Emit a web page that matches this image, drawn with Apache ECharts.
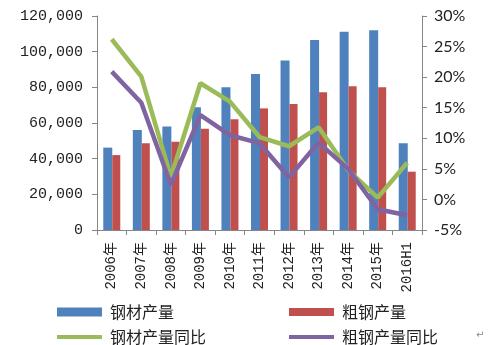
<!DOCTYPE html>
<html>
<head>
<meta charset="utf-8">
<script src="https://cdn.jsdelivr.net/npm/echarts@6/dist/echarts.min.js"></script>
<style>
  html, body { margin: 0; padding: 0; background: #ffffff; }
  #chart { width: 491px; height: 345px; }
</style>
</head>
<body>
<div id="chart"></div>
<script>
// Categories (years)
const categories = ['2006年', '2007年', '2008年', '2009年', '2010年', '2011年', '2012年', '2013年', '2014年', '2015年', '2016H1'];

// Output, 10k tonnes (left axis)
const steelProducts = [46200, 56100, 58000, 68800, 80000, 87500, 95000, 106500, 111200, 112000, 48600];
const crudeSteel = [42000, 48600, 49500, 56800, 62100, 68200, 70700, 77200, 80600, 80000, 32700];

// Year-on-year growth, % (right axis)
const steelProductsYoY = [26.2, 20.1, 3.7, 19.0, 16.0, 10.2, 8.7, 11.8, 4.8, 0.3, 6.0];
const crudeSteelYoY = [20.9, 15.8, 2.4, 13.8, 10.5, 9.2, 3.6, 9.3, 5.0, -1.6, -2.6];

// Series names
const names = ['钢材产量', '粗钢产量', '钢材产量同比', '粗钢产量同比'];

// Axis tick settings
const leftTicks = { min: 0, max: 120000, interval: 20000 };
const rightTicks = { min: -5, max: 30, interval: 5 };

const colors = ['#4F81BD', '#C0504D', '#9BBB59', '#8064A2'];
const axisGray = '#868686';
const cjk = "'Noto Sans CJK SC', sans-serif";
const mono = "'Liberation Mono', 'Noto Sans CJK SC', monospace";

function legendAt(name, color, left, top, h) {
  return {
    data: [{ name: name, icon: 'rect', itemStyle: { color: color } }],
    left: left, top: top,
    itemWidth: 45, itemHeight: h,
    itemGap: 0,
    selectedMode: false,
    textStyle: { fontFamily: cjk, fontSize: 16, color: '#222', padding: [0, 0, 0, 3] }
  };
}

const chart = echarts.init(document.getElementById('chart'), null, { renderer: 'canvas' });

chart.setOption({
  animation: false,
  backgroundColor: '#ffffff',
  color: colors,
  grid: { left: 97, right: 69, top: 16, bottom: 115 },
  legend: [
    legendAt(names[0], colors[0], 52, 299, 9),
    legendAt(names[1], colors[1], 284, 299, 8),
    legendAt(names[2], colors[2], 52, 324, 4),
    legendAt(names[3], colors[3], 284, 324, 4)
  ],
  xAxis: {
    type: 'category',
    data: categories,
    boundaryGap: true,
    axisLine: { lineStyle: { color: axisGray, width: 1 } },
    axisTick: { show: true, alignWithLabel: false, length: 5, lineStyle: { color: axisGray } },
    axisLabel: {
      rotate: 90, interval: 0, margin: 12,
      fontFamily: mono, fontSize: 14, color: '#222'
    }
  },
  yAxis: [
    {
      type: 'value',
      min: leftTicks.min, max: leftTicks.max, interval: leftTicks.interval,
      position: 'left',
      axisLine: { show: true, lineStyle: { color: axisGray } },
      axisTick: { show: true, length: 5, lineStyle: { color: axisGray } },
      splitLine: { show: false },
      axisLabel: {
        margin: 14,
        fontFamily: mono, fontSize: 15, color: '#222',
        formatter: v => v.toLocaleString('en-US')
      }
    },
    {
      type: 'value',
      min: rightTicks.min, max: rightTicks.max, interval: rightTicks.interval,
      position: 'right',
      axisLine: { show: true, lineStyle: { color: axisGray } },
      axisTick: { show: true, length: 5, lineStyle: { color: axisGray } },
      splitLine: { show: false },
      axisLabel: {
        margin: 12,
        fontFamily: "'Lato', 'Liberation Sans', sans-serif", fontSize: 16, color: '#222',
        formatter: v => v + '%'
      }
    }
  ],
  series: [
    {
      name: names[0], type: 'bar', yAxisIndex: 0,
      data: steelProducts, barWidth: 9, barGap: '0%',
      itemStyle: { color: colors[0] }
    },
    {
      name: names[1], type: 'bar', yAxisIndex: 0,
      data: crudeSteel, barWidth: 8, barGap: '0%',
      itemStyle: { color: colors[1] }
    },
    {
      name: names[2], type: 'line', yAxisIndex: 1,
      data: steelProductsYoY, symbol: 'none', z: 3,
      itemStyle: { color: colors[2] },
      lineStyle: { width: 4.5, color: colors[2] }
    },
    {
      name: names[3], type: 'line', yAxisIndex: 1,
      data: crudeSteelYoY, symbol: 'none', z: 3,
      itemStyle: { color: colors[3] },
      lineStyle: { width: 4.5, color: colors[3] }
    }
  ],
  graphic: [
    {
      type: 'text', left: 476, top: 330,
      style: { text: '↵', fontSize: 10, fill: '#888', fontFamily: "'DejaVu Sans', sans-serif" }
    }
  ]
});
</script>
</body>
</html>
